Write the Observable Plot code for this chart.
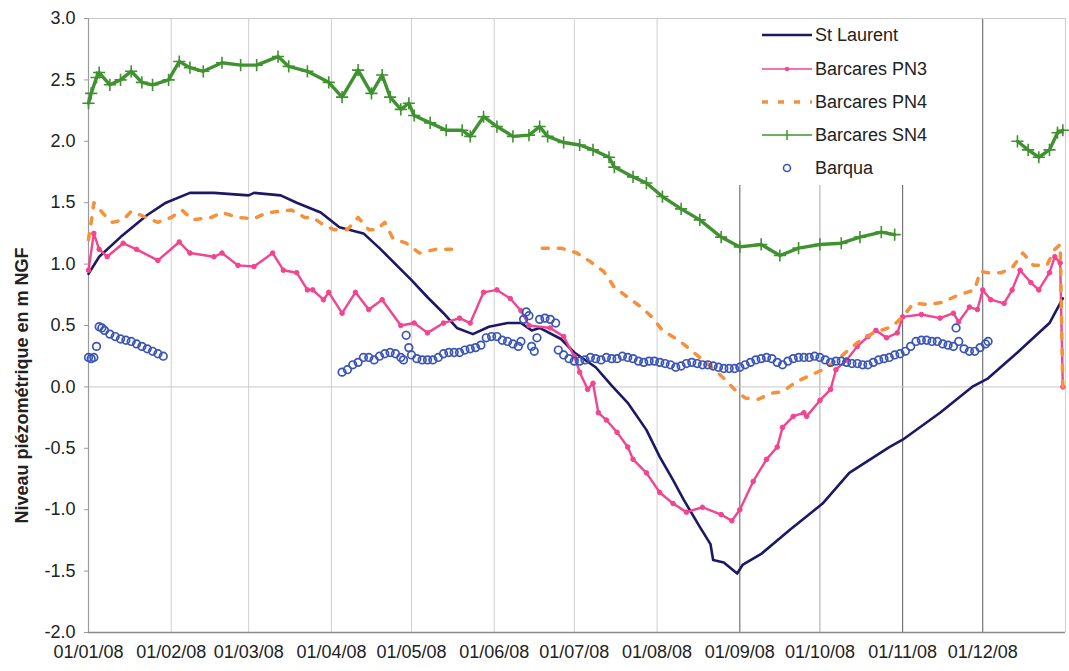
<!DOCTYPE html>
<html><head><meta charset="utf-8">
<script src="https://cdn.jsdelivr.net/npm/d3@7"></script>
<script src="https://cdn.jsdelivr.net/npm/@observablehq/plot@0.6"></script>
<style>
body{margin:0;background:#fff;font-family:"Liberation Sans",Arial,sans-serif}
#chart{position:relative;width:1069px;height:671px}
</style>
</head><body><div id="chart"></div>
<script>
// ---- data (day of year 2008, 0 = 01/01/08) ----
const stLaurentDays = [0,4,12,22,29,38,47,60,62,72,78,87,94,103,109,121,127,133,138,144,150,157,162,166,169,177,182,190,196,202,209,214,219,223,229,233,234,238,243,245,252,263,275,285,300,305,319,331,337,348,360,365];
const stLaurentValues = [0.92,1.06,1.22,1.40,1.50,1.58,1.58,1.56,1.58,1.56,1.50,1.42,1.30,1.25,1.13,0.87,0.73,0.60,0.48,0.43,0.49,0.52,0.52,0.46,0.48,0.39,0.28,0.16,0.01,-0.13,-0.35,-0.57,-0.76,-0.92,-1.14,-1.28,-1.41,-1.43,-1.52,-1.45,-1.36,-1.16,-0.95,-0.70,-0.49,-0.43,-0.21,0.0,0.07,0.28,0.52,0.72];

const pn3Days = [0,2,4,7,13,18,26,34,38,47,50,56,62,69,73,78,82,84,88,90,95,100,105,110,117,122,127,133,139,143,148,153,158,162,165,173,178,182,184,187,189,191,194,198,202,204,209,214,219,224,230,237,241,244,249,254,258,260,264,268,269,274,278,280,284,288,292,295,299,303,305,312,319,324,326,330,333,335,338,343,346,349,353,356,360,362,364,365];
const pn3Values = [0.95,1.25,1.12,1.06,1.17,1.12,1.03,1.18,1.09,1.06,1.09,0.99,0.98,1.09,0.95,0.93,0.79,0.79,0.71,0.77,0.60,0.77,0.63,0.71,0.50,0.52,0.44,0.52,0.56,0.52,0.77,0.79,0.72,0.62,0.50,0.48,0.41,0.25,0.12,-0.02,0.03,-0.21,-0.27,-0.37,-0.49,-0.59,-0.70,-0.86,-0.95,-1.02,-0.98,-1.04,-1.09,-1.00,-0.77,-0.59,-0.49,-0.33,-0.24,-0.21,-0.24,-0.11,-0.02,0.14,0.22,0.33,0.41,0.46,0.40,0.44,0.57,0.59,0.56,0.60,0.53,0.65,0.63,0.79,0.71,0.68,0.79,0.95,0.85,0.79,0.93,1.06,1.01,0.0];

const pn4Days = [0,1,2,6,9,13,16,26,31,35,39,46,50,56,62,67,72,76,81,84,88,92,97,101,105,108,111,114,119,124,130,136,150,170,177,183,188,193,197,202,207,211,215,221,224,229,234,238,242,246,251,256,260,265,271,276,282,288,294,301,305,309,315,320,326,332,334,337,342,346,350,354,359,362,364,365];
const pn4Values = [1.20,1.34,1.50,1.40,1.34,1.36,1.43,1.34,1.38,1.44,1.36,1.38,1.42,1.38,1.37,1.42,1.43,1.44,1.38,1.38,1.32,1.28,1.28,1.38,1.28,1.28,1.34,1.21,1.17,1.09,1.12,1.12,null,1.13,1.13,1.09,1.02,0.94,0.81,0.73,0.65,0.57,0.46,0.38,0.33,0.24,0.15,0.07,-0.02,-0.09,-0.10,-0.05,-0.04,0.04,0.10,0.15,0.25,0.36,0.44,0.49,0.57,0.68,0.67,0.69,0.75,0.79,0.94,0.93,0.93,0.97,1.09,0.99,0.99,1.12,1.16,0.0];

const sn4Days = [0,1,3,4,8,12,16,20,24,30,34,38,43,50,57,63,71,75,82,90,95,101,106,110,113,117,120,122,128,134,140,143,148,153,159,165,169,172,178,184,189,195,197,204,209,215,222,229,237,244,252,259,266,274,282,289,297,302,320,348,352,356,360,363,365];
const sn4Values = [2.31,2.39,2.52,2.56,2.46,2.50,2.57,2.48,2.46,2.50,2.65,2.60,2.57,2.64,2.62,2.62,2.69,2.61,2.57,2.48,2.36,2.58,2.39,2.54,2.36,2.26,2.31,2.21,2.15,2.09,2.09,2.04,2.20,2.12,2.04,2.05,2.12,2.04,1.99,1.97,1.93,1.87,1.79,1.71,1.66,1.55,1.45,1.36,1.22,1.14,1.16,1.07,1.13,1.16,1.17,1.22,1.26,1.24,null,2.00,1.93,1.87,1.93,2.07,2.09];

const barquaDays = [0,1,2,3,4,5,6,8,10,12,14,16,18,20,22,24,26,28,
  95,97,99,101,103,105,107,109,111,113,115,117,118,119,120,121,123,125,127,129,131,133,135,137,139,141,143,145,147,149,151,153,155,157,159,161,162,163,164,165,166,167,168,169,171,173,175,176,178,180,182,184,186,188,190,192,194,196,198,200,202,204,206,208,210,212,214,216,218,220,222,224,226,228,230,232,234,236,238,240,242,244,246,248,250,252,254,256,258,260,262,264,266,268,270,272,274,276,278,280,282,284,286,288,290,292,294,296,298,300,302,304,306,308,310,312,314,316,318,320,322,324,325,326,328,330,332,334,336,337];
const barquaValues = [0.24,0.23,0.24,0.33,0.49,0.48,0.46,0.43,0.41,0.39,0.38,0.37,0.35,0.33,0.31,0.29,0.27,0.25,
  0.12,0.14,0.18,0.20,0.24,0.24,0.22,0.25,0.27,0.28,0.27,0.24,0.22,0.42,0.32,0.26,0.23,0.22,0.22,0.22,0.24,0.27,0.28,0.28,0.28,0.30,0.31,0.32,0.34,0.40,0.41,0.41,0.38,0.37,0.35,0.33,0.37,0.55,0.61,0.58,0.33,0.29,0.40,0.55,0.56,0.55,0.52,0.30,0.26,0.23,0.21,0.21,0.22,0.24,0.23,0.22,0.24,0.23,0.23,0.25,0.24,0.23,0.21,0.20,0.21,0.21,0.20,0.19,0.18,0.16,0.17,0.19,0.20,0.19,0.18,0.18,0.17,0.16,0.15,0.15,0.15,0.16,0.18,0.20,0.22,0.23,0.24,0.23,0.20,0.18,0.21,0.23,0.24,0.24,0.24,0.25,0.24,0.22,0.20,0.21,0.21,0.20,0.19,0.19,0.18,0.18,0.20,0.22,0.23,0.24,0.26,0.27,0.29,0.33,0.37,0.38,0.38,0.37,0.37,0.35,0.34,0.33,0.48,0.37,0.31,0.29,0.29,0.32,0.35,0.37];

const seriesNames = ["St Laurent","Barcares PN3","Barcares PN4","Barcares SN4","Barqua"];
const seriesColors = ["#1b1966","#f2448f","#f7903a","#3f922f","#3a55b8"];
const yTicks = [-2,-1.5,-1,-0.5,0,0.5,1,1.5,2,2.5,3];
const yLabel = "Niveau piézométrique en m NGF";

// ---- build ----
const start = new Date(Date.UTC(2008,0,1));
const toDate = d => d3.utcDay.offset(start, d);
const build = (days, values) => days.map((d,i) => ({date: toDate(d), value: values[i]}));
const stLaurent = build(stLaurentDays, stLaurentValues);
const pn3 = build(pn3Days, pn3Values);
const pn4 = build(pn4Days, pn4Values);
const sn4 = build(sn4Days, sn4Values);
const barqua = build(barquaDays, barquaValues);

const monthTicks = d3.utcMonths(start, new Date(Date.UTC(2008,11,2)));
const gridMonths = d3.utcMonths(d3.utcMonth.offset(start,1), new Date(Date.UTC(2009,0,2)));
const darkMonths = [8,10,11];
const gridColor = d => {
  if (d.getUTCFullYear() !== 2008) return "#cfcfcf";
  if (darkMonths.includes(d.getUTCMonth())) return "#5a5a5a";
  if (d.getUTCMonth() === 9) return "#a8a8a8";
  return "#cfcfcf";
};

const chart = Plot.plot({
  width: 1069, height: 671,
  marginLeft: 88, marginRight: 4, marginTop: 18, marginBottom: 39,
  style: {fontFamily: "'Liberation Sans', Arial, sans-serif", fontSize: "18px", color: "#222", background: "#fff"},
  x: {type: "utc", domain: [start, new Date(Date.UTC(2009,0,1))]},
  y: {domain: [-2, 3]},
  marks: [
    Plot.ruleX(gridMonths, {stroke: gridColor, strokeWidth: 1}),
    Plot.ruleY([0], {stroke: "#c8c8c8"}),
    Plot.ruleY([3], {stroke: "#c8c8c8"}),
    Plot.ruleY([-2], {stroke: "#8a8a8a", strokeWidth: 1.5}),
    Plot.ruleX([start], {stroke: "#9a9a9a", strokeWidth: 1.2}),
    Plot.axisY(yTicks, {tickFormat: d => d.toFixed(1), tickSize: 4, tickPadding: 9, label: null, stroke: "#999", fill: "#222", fontSize: 18}),
    Plot.axisX(monthTicks, {tickFormat: d3.utcFormat("%d/%m/%y"), tickSize: 0, tickPadding: 13, label: null, fill: "#222", fontSize: 18}),
    Plot.text([yLabel], {frameAnchor: "left", textAnchor: "middle", rotate: -90, dx: -66, dy: 60, fontWeight: "bold", fontSize: 18, fill: "#222"}),
    Plot.line(stLaurent, {x: "date", y: "value", stroke: seriesColors[0], strokeWidth: 2.6}),
    Plot.line(pn3, {x: "date", y: "value", stroke: seriesColors[1], strokeWidth: 2.4}),
    Plot.dot(pn3, {x: "date", y: "value", r: 2.3, fill: seriesColors[1], stroke: seriesColors[1], strokeWidth: 1}),
    Plot.line(pn4, {x: "date", y: "value", stroke: seriesColors[2], strokeWidth: 3.5, strokeDasharray: "6,10"}),
    Plot.line(sn4, {x: "date", y: "value", stroke: seriesColors[3], strokeWidth: 3.4}),
    Plot.dot(sn4, {x: "date", y: "value", symbol: "plus", r: 4, stroke: seriesColors[3], strokeWidth: 1.6}),
    Plot.dot(barqua, {x: "date", y: "value", r: 3.8, fill: "none", stroke: seriesColors[4], strokeWidth: 1.7})
  ]
});
document.getElementById("chart").appendChild(chart);

// ---- legend (inside the plot area, top right) ----
const svg = d3.select(chart);
const lg = svg.append("g").attr("font-family", "'Liberation Sans', Arial, sans-serif").attr("font-size", 18).attr("fill", "#222").attr("text-anchor", "start");
lg.append("rect").attr("x", 737).attr("y", 19).attr("width", 240).attr("height", 166).attr("fill", "#fff");
const rowY = [35, 69, 102, 135, 168];
seriesNames.forEach((name, i) => {
  const y = rowY[i], c = seriesColors[i];
  if (i === 0) lg.append("line").attr("x1", 762).attr("x2", 812).attr("y1", y).attr("y2", y).attr("stroke", c).attr("stroke-width", 2.6);
  if (i === 1) {
    lg.append("line").attr("x1", 762).attr("x2", 812).attr("y1", y).attr("y2", y).attr("stroke", c).attr("stroke-width", 1.5);
    lg.append("circle").attr("cx", 787).attr("cy", y).attr("r", 2.2).attr("fill", c);
  }
  if (i === 2) lg.append("line").attr("x1", 762).attr("x2", 812).attr("y1", y).attr("y2", y).attr("stroke", c).attr("stroke-width", 3.5).attr("stroke-dasharray", "6,10");
  if (i === 3) {
    lg.append("line").attr("x1", 762).attr("x2", 812).attr("y1", y).attr("y2", y).attr("stroke", c).attr("stroke-width", 1.5);
    lg.append("line").attr("x1", 787).attr("x2", 787).attr("y1", y - 5).attr("y2", y + 5).attr("stroke", c).attr("stroke-width", 1.5);
  }
  if (i === 4) lg.append("circle").attr("cx", 787).attr("cy", y).attr("r", 3.5).attr("fill", "none").attr("stroke", c).attr("stroke-width", 1.6);
  lg.append("text").attr("x", 815).attr("y", y).attr("dy", "0.35em").text(name);
});
</script>
</body></html>
